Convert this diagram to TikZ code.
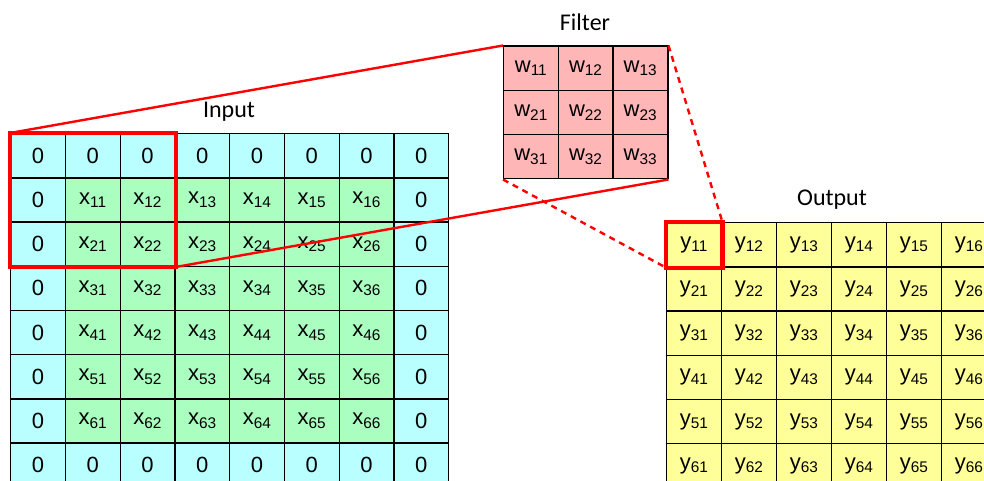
\documentclass[tikz,border=0pt]{standalone}
\usepackage{fontspec}
\setmainfont{Carlito}
\newfontfamily\cellfont{Liberation Sans}
\definecolor{padcyan}{RGB}{185,255,255}
\definecolor{datagreen}{RGB}{170,255,192}
\definecolor{filterpink}{RGB}{255,182,182}
\definecolor{outyellow}{RGB}{255,255,153}

\begin{document}
\begin{tikzpicture}[x=1pt, y=-1pt,
    cell/.style={draw, line width=1.4pt, anchor=north west, inner sep=0pt,
      minimum width=54.75pt, minimum height=44.2pt, font=\cellfont\fontsize{22}{26}\selectfont},
    title/.style={font=\fontsize{24}{28}\selectfont},
    hilite/.style={draw=red, line width=4.2pt},
    link/.style={red, line width=2.4pt},
    dlink/.style={red, line width=2.4pt, dash pattern=on 6pt off 5pt}]
    \clip (0,0) rectangle (984,481);

    % input, zero padded
    \foreach \r in {1,...,8}
        \foreach \c in {1,...,8} {
            \pgfmathtruncatemacro{\i}{\r-1}
            \pgfmathtruncatemacro{\j}{\c-1}
            \pgfmathtruncatemacro{\pad}{(\r==1)||(\r==8)||(\c==1)||(\c==8)}
            \ifnum\pad=1
                \node[cell, fill=padcyan] (in\r\c) at ({10+(\c-1)*54.75},{133+(\r-1)*44.2}) {0};
            \else
                \node[cell, fill=datagreen] (in\r\c) at ({10+(\c-1)*54.75},{133+(\r-1)*44.2}) {x\textsubscript{\i\j}};
            \fi
        }

    % filter
    \foreach \r in {1,2,3}
        \foreach \c in {1,2,3}
            \node[cell, fill=filterpink, minimum width=54.7pt] (w\r\c) at ({503+(\c-1)*54.7},{45.5+(\r-1)*44.2}) {w\textsubscript{\r\c}};

    % output
    \foreach \r in {1,...,6}
        \foreach \c in {1,...,6}
            \node[cell, fill=outyellow, minimum width=55pt] (y\r\c) at ({666+(\c-1)*55},{222+(\r-1)*44.2}) {y\textsubscript{\r\c}};

    % labels
    \node[title] (inlabel) at (229,112) {Input};
    \node[title] (wlabel) at (585,22) {Filter};
    \node[title] (ylabel) at (832,200) {Output};

    % receptive field and filter projection
    \draw[link] (in11.north west) -- (w11.north west);
    \draw[link] (in33.south east) -- (w33.south east);
    \draw[dlink] (w13.north east) -- (y11.north east);
    \draw[dlink] (w31.south west) -- (y11.south west);
    \draw[hilite] (in11.north west) rectangle (in33.south east);
    \draw[hilite] (y11.north west) rectangle (y11.south east);
\end{tikzpicture}
\end{document}
